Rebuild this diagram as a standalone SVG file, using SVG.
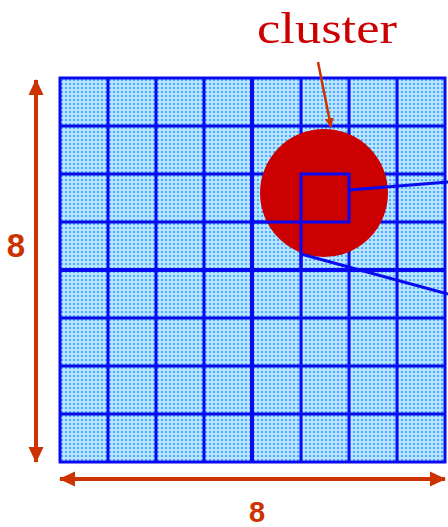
<svg xmlns="http://www.w3.org/2000/svg" width="448" height="527" viewBox="0 0 448 527">
<defs>
<pattern id="dots" x="60" y="78" width="4" height="4" patternUnits="userSpaceOnUse">
<rect width="4" height="4" fill="#b9e3ff"/>
<rect x="1" y="1" width="2" height="2" fill="#4aadff"/>
</pattern>
<marker id="ah" viewBox="0 0 16 16" refX="15" refY="8" markerWidth="16" markerHeight="16" markerUnits="userSpaceOnUse" orient="auto-start-reverse">
<path d="M0,0.5 L16,8 L0,15.5 Z" fill="#cc3300"/>
</marker>
<marker id="ah2" viewBox="0 0 10 10" refX="9" refY="5" markerWidth="10" markerHeight="10" markerUnits="userSpaceOnUse" orient="auto">
<path d="M0,0.5 L10,5 L0,9.5 Z" fill="#cc3300"/>
</marker>
</defs>
<style>
.g{stroke:#0a0af0;stroke-width:3;fill:none}
.gt{stroke:#0a0af0;stroke-width:4;fill:none}
.dim{stroke:#cc3300;stroke-width:4;fill:none}
.lbl{font-family:"Liberation Sans",Arial,sans-serif;font-weight:bold;fill:#cc3300;text-anchor:middle}
</style>
<g id="grid">
<rect x="60" y="78" width="385" height="384" fill="url(#dots)"/>
<path class="g" d="M108,78V462M156,78V462M204,78V462M301,78V462M349,78V462M397,78V462M60,126H445M60,174H445M60,222H445M60,318H445M60,366H445M60,414H445"/>
<path class="gt" d="M252,78V462M60,270H445"/>
<rect class="g" x="60" y="78" width="385" height="384"/>
</g>
<g id="cluster">
<circle cx="324" cy="193" r="64" fill="#cc0000"/>
<rect class="g" x="301" y="174" width="48" height="48"/>
<path class="g" d="M253,222H301M301,222V270"/>
</g>
<g id="connectors">
<path class="g" d="M349,190L448,182"/>
<path class="g" d="M301,254L448,294"/>
<path d="M318,62L331,127" stroke="#cc3300" stroke-width="2.5" fill="none" marker-end="url(#ah2)"/>
<path class="dim" d="M36,80V462" marker-start="url(#ah)" marker-end="url(#ah)"/>
<path class="dim" d="M60,479H445" marker-start="url(#ah)" marker-end="url(#ah)"/>
</g>
<g id="labels">
<text x="327" y="43" font-family="Liberation Serif,'Times New Roman',serif" font-size="44" fill="#cc0000" text-anchor="middle" textLength="140" lengthAdjust="spacingAndGlyphs">cluster</text>
<text class="lbl" x="16" y="257" font-size="33">8</text>
<text class="lbl" x="257" y="522" font-size="29">8</text>
</g>
</svg>
